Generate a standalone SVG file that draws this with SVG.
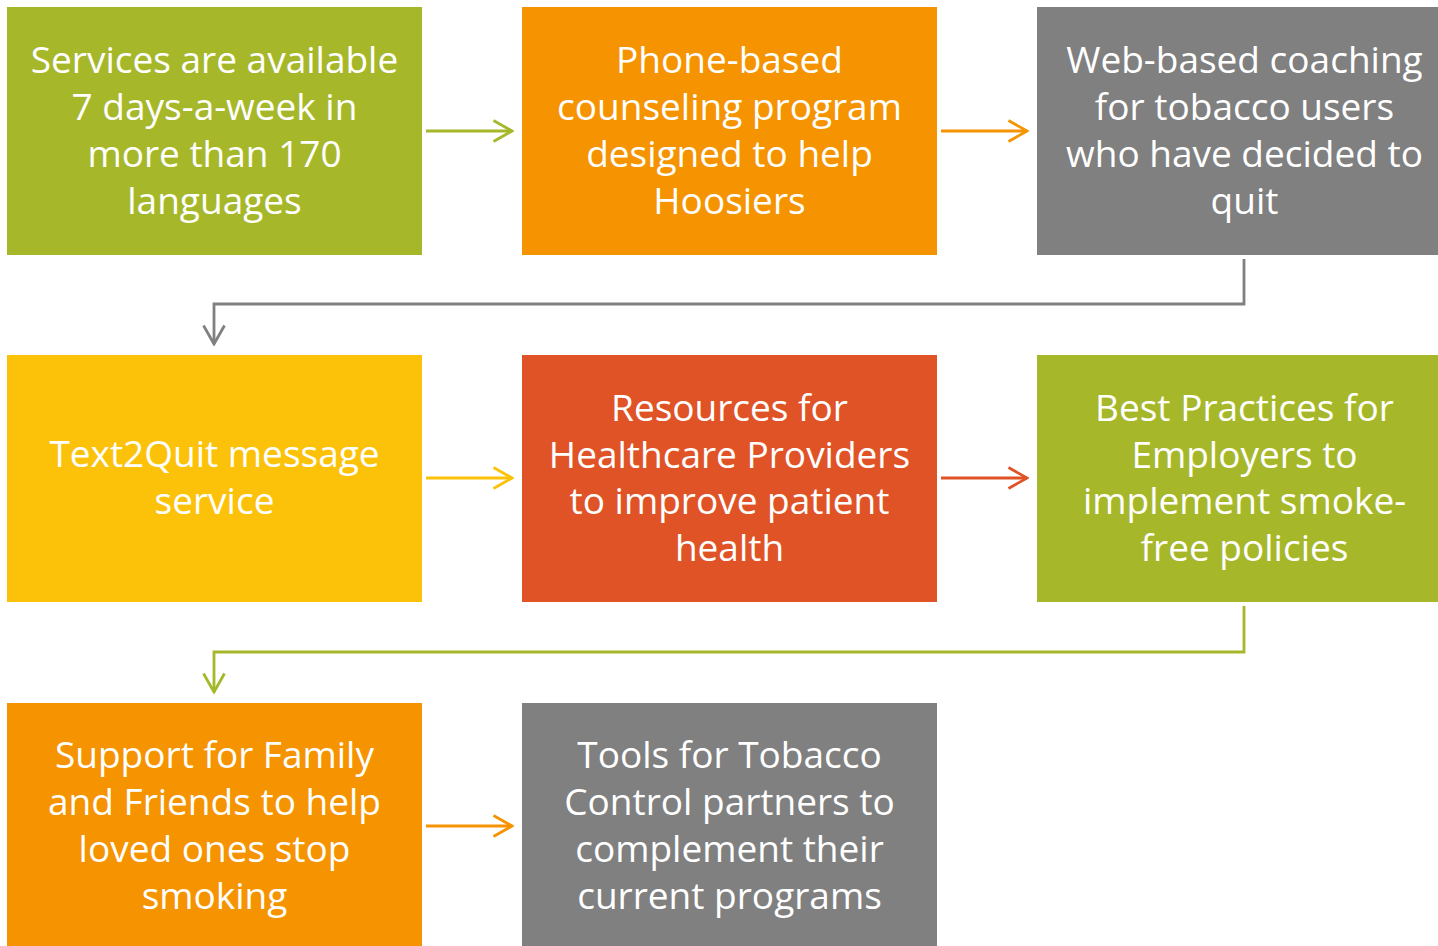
<svg xmlns="http://www.w3.org/2000/svg" width="1438" height="946" viewBox="0 0 1438 946">
  <style>
    .box text { font-family: "Open Sans", "Noto Sans", "Liberation Sans", sans-serif; font-size: 37px; fill: #ffffff; text-anchor: middle; }
    .green { fill: #A6B82A; }
    .orange { fill: #F59300; }
    .gray { fill: #808080; }
    .yellow { fill: #FCC20A; }
    .red { fill: #E05327; }
    .conn path { fill: none; stroke-width: 2.8; }
  </style>
  <defs>
    <marker id="arrGreen" viewBox="0 0 22 24" refX="20" refY="12" markerWidth="22" markerHeight="24" markerUnits="userSpaceOnUse" orient="auto">
      <path d="M1.5 1.5 L20 12 L1.5 22.5" fill="none" stroke="#A6B82A" stroke-width="2.8"/>
    </marker>
    <marker id="arrOrange" viewBox="0 0 22 24" refX="20" refY="12" markerWidth="22" markerHeight="24" markerUnits="userSpaceOnUse" orient="auto">
      <path d="M1.5 1.5 L20 12 L1.5 22.5" fill="none" stroke="#F59300" stroke-width="2.8"/>
    </marker>
    <marker id="arrGray" viewBox="0 0 22 24" refX="20" refY="12" markerWidth="22" markerHeight="24" markerUnits="userSpaceOnUse" orient="auto">
      <path d="M1.5 1.5 L20 12 L1.5 22.5" fill="none" stroke="#808080" stroke-width="2.8"/>
    </marker>
    <marker id="arrYellow" viewBox="0 0 22 24" refX="20" refY="12" markerWidth="22" markerHeight="24" markerUnits="userSpaceOnUse" orient="auto">
      <path d="M1.5 1.5 L20 12 L1.5 22.5" fill="none" stroke="#FCC20A" stroke-width="2.8"/>
    </marker>
    <marker id="arrRed" viewBox="0 0 22 24" refX="20" refY="12" markerWidth="22" markerHeight="24" markerUnits="userSpaceOnUse" orient="auto">
      <path d="M1.5 1.5 L20 12 L1.5 22.5" fill="none" stroke="#E05327" stroke-width="2.8"/>
    </marker>
  </defs>
  <rect width="1438" height="946" fill="#ffffff"/>

  <g class="conn">
    <path d="M426 131 H512" stroke="#A6B82A" marker-end="url(#arrGreen)"/>
    <path d="M941 131 H1027" stroke="#F59300" marker-end="url(#arrOrange)"/>
    <path d="M1244 259 V304 H214 V344" stroke="#808080" marker-end="url(#arrGray)"/>
    <path d="M426 478 H512" stroke="#FCC20A" marker-end="url(#arrYellow)"/>
    <path d="M941 478 H1027" stroke="#E05327" marker-end="url(#arrRed)"/>
    <path d="M1244 606 V652 H214 V692" stroke="#A6B82A" marker-end="url(#arrGreen)"/>
    <path d="M426 826 H512" stroke="#F59300" marker-end="url(#arrOrange)"/>
  </g>

  <g id="node-services" class="box">
    <rect class="green" x="7" y="7" width="415" height="248"/>
    <text x="214.5" y="73">Services are available</text>
    <text x="214.5" y="120">7 days-a-week in</text>
    <text x="214.5" y="167">more than 170</text>
    <text x="214.5" y="214">languages</text>
  </g>
  <g id="node-phone" class="box">
    <rect class="orange" x="522" y="7" width="415" height="248"/>
    <text x="729.5" y="73">Phone-based</text>
    <text x="729.5" y="120">counseling program</text>
    <text x="729.5" y="167">designed to help</text>
    <text x="729.5" y="214">Hoosiers</text>
  </g>
  <g id="node-web" class="box">
    <rect class="gray" x="1037" y="7" width="415" height="248"/>
    <text x="1244.5" y="73">Web-based coaching</text>
    <text x="1244.5" y="120">for tobacco users</text>
    <text x="1244.5" y="167">who have decided to</text>
    <text x="1244.5" y="214">quit</text>
  </g>
  <g id="node-text2quit" class="box">
    <rect class="yellow" x="7" y="355" width="415" height="247"/>
    <text x="214.5" y="467">Text2Quit message</text>
    <text x="214.5" y="514">service</text>
  </g>
  <g id="node-providers" class="box">
    <rect class="red" x="522" y="355" width="415" height="247"/>
    <text x="729.5" y="421">Resources for</text>
    <text x="729.5" y="468">Healthcare Providers</text>
    <text x="729.5" y="514">to improve patient</text>
    <text x="729.5" y="561">health</text>
  </g>
  <g id="node-employers" class="box">
    <rect class="green" x="1037" y="355" width="415" height="247"/>
    <text x="1244.5" y="421">Best Practices for</text>
    <text x="1244.5" y="468">Employers to</text>
    <text x="1244.5" y="514">implement smoke-</text>
    <text x="1244.5" y="561">free policies</text>
  </g>
  <g id="node-family" class="box">
    <rect class="orange" x="7" y="703" width="415" height="250"/>
    <text x="214.5" y="768">Support for Family</text>
    <text x="214.5" y="815">and Friends to help</text>
    <text x="214.5" y="862">loved ones stop</text>
    <text x="214.5" y="909">smoking</text>
  </g>
  <g id="node-tools" class="box">
    <rect class="gray" x="522" y="703" width="415" height="250"/>
    <text x="729.5" y="768">Tools for Tobacco</text>
    <text x="729.5" y="815">Control partners to</text>
    <text x="729.5" y="862">complement their</text>
    <text x="729.5" y="909">current programs</text>
  </g>
</svg>
